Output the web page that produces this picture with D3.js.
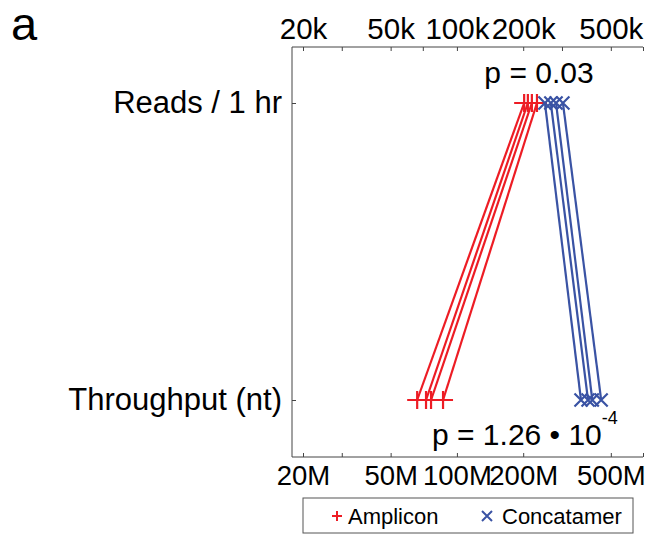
<!DOCTYPE html>
<html>
<head>
<meta charset="utf-8">
<script src="https://cdn.jsdelivr.net/npm/d3@7"></script>
<style>
  body { margin: 0; background: #fff; }
  svg { font-family: "Liberation Sans", Arial, Helvetica, sans-serif; }
  .axis text { fill: #000; }
  .axis line { stroke: #444; }
</style>
</head>
<body>
<svg id="chart" width="650" height="535"></svg>
<script>
// categories on the vertical axis
const categories = ["Reads / 1 hr", "Throughput (nt)"];

// per-run values: reads per hour (top axis), throughput in nt (bottom axis)
const ampliconReads = [202e3, 210e3, 219e3, 231e3];
const ampliconThroughput = [66e6, 72.4e6, 76.3e6, 86.5e6];
const concatamerReads = [251e3, 267e3, 282e3, 303e3];
const concatamerThroughput = [366e6, 394e6, 412e6, 452e6];

// axis ticks
const topTicks = [20e3, 30e3, 50e3, 70e3, 100e3, 200e3, 300e3, 500e3, 700e3];
const topLabels = [20e3, 50e3, 100e3, 200e3, 500e3];
const bottomTicks = [20e6, 30e6, 50e6, 100e6, 200e6, 500e6, 700e6];
const bottomLabels = [20e6, 50e6, 100e6, 200e6, 500e6];

const pText = ["p = 0.03", "p = 1.26 \u2022 10", "-4"];

const RED = "#ed1c24", BLUE = "#3a53a4";

const svg = d3.select("#chart");
const frameLeft = 292, frameRight = 643, frameTop = 47, frameBottom = 457;

const xTop = d3.scaleLog().domain([20e3, 700e3]).range([303, 643]);
const xBot = d3.scaleLog().domain([20e6, 700e6]).range([303, 643]);
const y = d3.scalePoint().domain(categories).range([103, 400]);

// frame lines (left, top, bottom)
svg.append("path")
  .attr("d", `M${frameRight},${frameTop}H${frameLeft}V${frameBottom}H${frameRight}`)
  .attr("fill", "none").attr("stroke", "#444").attr("stroke-width", 1);

// top axis
const gTop = svg.append("g").attr("class", "axis")
  .attr("transform", `translate(0,${frameTop})`)
  .call(d3.axisTop(xTop).tickValues(topTicks).tickSize(-4).tickPadding(8)
    .tickFormat(d => topLabels.includes(d) ? (d / 1000) + "k" : ""));
gTop.select(".domain").remove();
gTop.selectAll("text").attr("font-size", 29.5).attr("font-family", null);

// bottom axis
const gBot = svg.append("g").attr("class", "axis")
  .attr("transform", `translate(0,${frameBottom})`)
  .call(d3.axisBottom(xBot).tickValues(bottomTicks).tickSize(-4).tickPadding(8)
    .tickFormat(d => bottomLabels.includes(d) ? (d / 1e6) + "M" : ""));
gBot.select(".domain").remove();
gBot.selectAll("text").attr("font-size", 27.5).attr("font-family", null);

// left axis with category labels
const gLeft = svg.append("g").attr("class", "axis")
  .attr("transform", `translate(${frameLeft},0)`)
  .call(d3.axisLeft(y).tickSize(-4).tickPadding(10));
gLeft.select(".domain").remove();
gLeft.selectAll("text").attr("font-size", 31).attr("font-family", null);

// paired lines
function drawSeries(reads, throughput, color) {
  const pairs = reads.map((r, i) => ({ r: r, t: throughput[i] }));
  svg.append("g").selectAll("line")
    .data(pairs).enter().append("line")
    .attr("x1", d => xTop(d.r)).attr("y1", y(categories[0]))
    .attr("x2", d => xBot(d.t)).attr("y2", y(categories[1]))
    .attr("stroke", color).attr("stroke-width", 2.2);
}
drawSeries(ampliconReads, ampliconThroughput, RED);
drawSeries(concatamerReads, concatamerThroughput, BLUE);

const plusPath = "M-10,0H10M0,-9V9";
const crossPath = "M-6.5,-6.5L6.5,6.5M-6.5,6.5L6.5,-6.5";

function drawMarkers(vals, scale, cat, path, color) {
  svg.append("g").selectAll("path")
    .data(vals).enter().append("path")
    .attr("d", path)
    .attr("transform", d => `translate(${scale(d)},${y(cat)})`)
    .attr("fill", "none").attr("stroke", color).attr("stroke-width", 2.2);
}
drawMarkers(ampliconReads, xTop, categories[0], plusPath, RED);
drawMarkers(ampliconThroughput, xBot, categories[1], plusPath, RED);
drawMarkers(concatamerReads, xTop, categories[0], crossPath, BLUE);
drawMarkers(concatamerThroughput, xBot, categories[1], crossPath, BLUE);

// p values
svg.append("text").attr("x", 539).attr("y", 83)
  .attr("text-anchor", "middle").attr("font-size", 30).text(pText[0]);
const p2 = svg.append("text").attr("x", 432).attr("y", 445).attr("font-size", 30);
p2.append("tspan").text(pText[1]);
p2.append("tspan").attr("font-size", 18).attr("dy", -21).text(pText[2]);

// panel letter
svg.append("text").attr("x", 11).attr("y", 40).attr("font-size", 47).text("a");

// legend
const lg = svg.append("g").attr("transform", "translate(303,498)");
lg.append("rect").attr("width", 330).attr("height", 35)
  .attr("fill", "#fff").attr("stroke", "#555").attr("stroke-width", 1);
lg.append("path").attr("d", "M29,18H39M34,13V23")
  .attr("stroke", RED).attr("stroke-width", 2).attr("fill", "none");
lg.append("text").attr("x", 45).attr("y", 26).attr("font-size", 22).text("Amplicon");
lg.append("path").attr("d", "M179,13L189,23M179,23L189,13")
  .attr("stroke", BLUE).attr("stroke-width", 2).attr("fill", "none");
lg.append("text").attr("x", 199).attr("y", 26).attr("font-size", 22).text("Concatamer");
</script>
</body>
</html>
